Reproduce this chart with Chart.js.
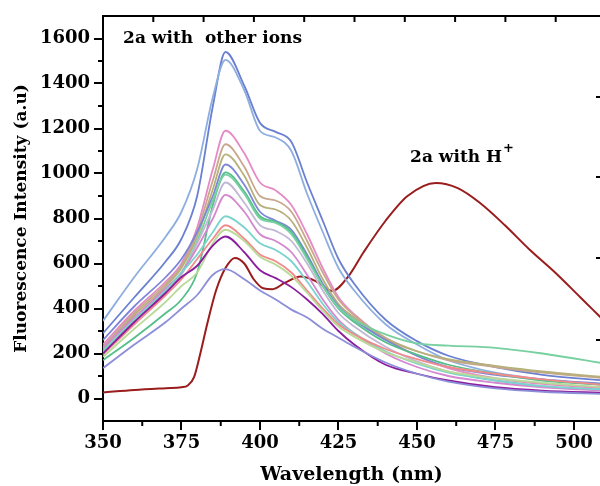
<!DOCTYPE html>
<html>
<head>
<meta charset="utf-8">
<script src="https://cdn.jsdelivr.net/npm/chart.js@4.4.0/dist/chart.umd.min.js"></script>
<style>
    html, body { margin: 0; padding: 0; background: #fff; }
    canvas { display: block; }
</style>
</head>
<body>
<canvas id="chart" width="600" height="486"></canvas>
<script>
// wavelengths (nm) shared by the "other ions" spectra
var wavelengths = [350, 360, 370, 375, 380, 385, 389, 395, 400, 405, 410, 415, 420, 425, 430, 440, 450, 460, 475, 490, 510];

// 2a with other ions, one array per ion (a.u)
var ionA = [290, 450, 610, 710, 900, 1300, 1540, 1390, 1225, 1185, 1140, 960, 790, 620, 510, 350, 255, 190, 140, 105, 80];
var ionB = [345, 540, 720, 830, 1020, 1340, 1505, 1370, 1190, 1160, 1100, 910, 740, 580, 480, 330, 240, 170, 115, 85, 60];
var ionC = [240, 390, 520, 600, 760, 1020, 1190, 1090, 960, 925, 860, 730, 580, 450, 375, 265, 190, 135, 90, 65, 45];
var ionD = [230, 380, 510, 590, 740, 970, 1130, 1030, 900, 880, 830, 700, 560, 440, 370, 270, 210, 170, 140, 115, 90];
var ionE = [220, 370, 500, 580, 720, 930, 1085, 990, 860, 840, 790, 670, 530, 420, 360, 265, 210, 175, 145, 120, 95];
var ionF = [260, 410, 540, 620, 740, 900, 1040, 950, 830, 790, 750, 640, 510, 410, 350, 260, 190, 140, 105, 85, 65];
var ionG = [170, 270, 380, 440, 560, 860, 1005, 920, 810, 785, 740, 630, 500, 400, 340, 250, 195, 150, 110, 80, 60];
var ionH = [210, 350, 480, 560, 700, 880, 995, 910, 800, 780, 730, 620, 500, 405, 350, 285, 245, 235, 225, 200, 155];
var ionI = [200, 340, 470, 550, 690, 840, 960, 870, 770, 745, 700, 600, 480, 380, 320, 230, 165, 120, 80, 55, 40];
var ionJ = [225, 360, 490, 560, 670, 800, 905, 830, 730, 700, 650, 550, 440, 350, 290, 200, 140, 100, 70, 50, 35];
var ionK = [210, 350, 480, 560, 640, 740, 810, 760, 690, 660, 610, 520, 420, 340, 290, 210, 155, 115, 80, 55, 40];
var ionL = [195, 330, 460, 530, 620, 710, 770, 710, 640, 610, 560, 480, 400, 330, 285, 220, 175, 140, 110, 85, 60];
var ionM = [185, 310, 430, 500, 560, 690, 750, 700, 630, 595, 545, 470, 390, 320, 275, 205, 160, 120, 90, 70, 50];
var ionN = [200, 340, 470, 540, 590, 680, 720, 650, 570, 535, 495, 440, 375, 300, 240, 150, 110, 80, 50, 35, 25];
var ionO = [135, 240, 340, 400, 460, 550, 575, 530, 480, 440, 395, 360, 310, 270, 230, 160, 110, 75, 45, 30, 20];

// 2a with H+
var acidWavelengths = [350, 360, 370, 375, 377, 379, 381, 383, 386, 389, 392, 395, 398, 401, 404, 408, 413, 418, 423, 428, 433, 440, 447, 456, 463, 470, 478, 486, 494, 502, 510];
var acidIntensity = [27, 38, 46, 50, 58, 95, 200, 320, 480, 580, 625, 600, 530, 490, 486, 515, 542, 520, 478, 540, 650, 790, 900, 958, 935, 870, 770, 660, 560, 450, 340];

var xTickValues = [350, 375, 400, 425, 450, 475, 500];
var xMinorValues = [362.5, 387.5, 412.5, 437.5, 462.5, 487.5];
var yTickValues = [0, 200, 400, 600, 800, 1000, 1200, 1400, 1600];
var yMinorValues = [100, 300, 500, 700, 900, 1100, 1300, 1500];

(function () {
    'use strict';

    var ionSeries = [ionO, ionN, ionM, ionL, ionK, ionJ, ionI, ionH, ionG, ionF, ionE, ionD, ionC, ionB, ionA];
    var ionColors = ['#8c8ed8', '#8b1e9e', '#b9da98', '#f18b8b', '#7ad3cd', '#d587cf', '#c2b8d6',
        '#76d0a0', '#55bf8a', '#7d86d6', '#b6b07a', '#c9a68e', '#e58ac6', '#8eaee0', '#6a80d0'];
    var serif = '"DejaVu Serif", "Liberation Serif", serif';

    function points(xs, ys) {
        return xs.map(function (x, i) { return {x: x, y: ys[i]}; });
    }

    var datasets = ionSeries.map(function (values, i) {
        return {
            data: points(wavelengths, values),
            borderColor: ionColors[i],
            borderWidth: 1.8,
            pointRadius: 0,
            cubicInterpolationMode: 'monotone'
        };
    });
    datasets.push({
        data: points(acidWavelengths, acidIntensity),
        borderColor: '#9a1d1d',
        borderWidth: 2,
        pointRadius: 0,
        cubicInterpolationMode: 'monotone'
    });

    function line(ctx, x1, y1, x2, y2) {
        ctx.beginPath();
        ctx.moveTo(x1, y1);
        ctx.lineTo(x2, y2);
        ctx.stroke();
    }

    var paper = {
        id: 'paper',
        beforeDraw: function (chart) {
            var ctx = chart.ctx;
            ctx.save();
            ctx.fillStyle = '#fff';
            ctx.fillRect(0, 0, chart.width, chart.height);
            ctx.restore();
        },
        afterDraw: function (chart) {
            var ctx = chart.ctx;
            var area = chart.chartArea;
            var sx = chart.scales.x;
            var sy = chart.scales.y;
            ctx.save();
            ctx.strokeStyle = '#000';
            ctx.lineWidth = 2;

            // minor ticks
            yMinorValues.forEach(function (v) {
                var py = sy.getPixelForValue(v);
                line(ctx, area.left - 5, py, area.left, py);
            });
            xMinorValues.forEach(function (v) {
                var px = sx.getPixelForValue(v);
                line(ctx, px, area.bottom, px, area.bottom + 5);
            });

            // top frame with the neighbouring panel's ticks
            line(ctx, area.left - 1, area.top, area.right, area.top);
            for (var i = 1; i < 10; i++) {
                var tx = area.left + i * 50.3;
                line(ctx, tx, area.top, tx, area.top + 6);
            }
            // stubs of the right hand axis
            [81, 161, 242, 324].forEach(function (d) {
                line(ctx, area.right - 4, area.top + d, area.right, area.top + d);
            });

            // annotations
            ctx.fillStyle = '#000';
            ctx.textBaseline = 'alphabetic';
            ctx.font = 'bold 17px ' + serif;
            ctx.fillText('2a with  other ions', sx.getPixelForValue(356.4), sy.getPixelForValue(1580));
            var hx = sx.getPixelForValue(447.8);
            var hy = sy.getPixelForValue(1050);
            ctx.fillText('2a with H', hx, hy);
            var w = ctx.measureText('2a with H').width;
            ctx.font = 'bold 13px ' + serif;
            ctx.fillText('+', hx + w + 1, hy - 10);
            ctx.restore();
        }
    };

    function plain(v) {
        return String(v);
    }

    new Chart(document.getElementById('chart'), {
        type: 'line',
        data: {datasets: datasets},
        options: {
            responsive: false,
            animation: false,
            devicePixelRatio: 1,
            layout: {padding: {top: 16, left: 0, right: 0, bottom: 0}},
            plugins: {legend: {display: false}, tooltip: {enabled: false}},
            scales: {
                x: {
                    type: 'linear',
                    min: 350,
                    max: 508.3,
                    afterBuildTicks: function (s) {
                        s.ticks = xTickValues.map(function (v) { return {value: v}; });
                    },
                    afterFit: function (s) { s.height = 65; },
                    grid: {drawOnChartArea: false, tickLength: 9, color: '#000', lineWidth: 2},
                    border: {display: true, color: '#000', width: 2},
                    ticks: {color: '#000', padding: 3, maxRotation: 0, callback: plain,
                        font: {family: serif, size: 18, weight: 'bold'}},
                    title: {
                        display: true,
                        text: 'Wavelength (nm)',
                        color: '#000',
                        padding: {top: 0, bottom: 0},
                        font: {family: serif, size: 19, weight: 'bold'}
                    }
                },
                y: {
                    min: -100,
                    max: 1700,
                    afterBuildTicks: function (s) {
                        s.ticks = yTickValues.map(function (v) { return {value: v}; });
                    },
                    afterFit: function (s) { s.width = 103; },
                    grid: {drawOnChartArea: false, tickLength: 9, color: '#000', lineWidth: 2},
                    border: {display: true, color: '#000', width: 2},
                    ticks: {color: '#000', padding: 4, callback: plain,
                        font: {family: serif, size: 18, weight: 'bold'}},
                    title: {
                        display: true,
                        text: 'Fluorescence Intensity (a.u)',
                        color: '#000',
                        padding: {top: 11, bottom: 0},
                        font: {family: serif, size: 17, weight: 'bold'}
                    }
                }
            }
        },
        plugins: [paper]
    });
})();
</script>
</body>
</html>
